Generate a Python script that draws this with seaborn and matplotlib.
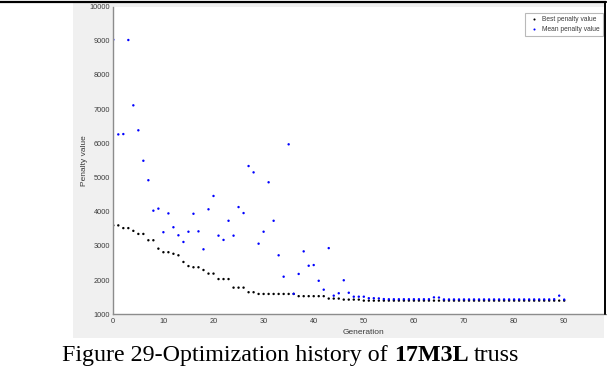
import numpy as np
import pandas as pd
import matplotlib
matplotlib.use("Agg")
import matplotlib.pyplot as plt
import seaborn as sns
from matplotlib.patches import Rectangle
from matplotlib.lines import Line2D

# ---------------- data ----------------
generation = list(range(91))
best_penalty = [3600, 3600, 3520, 3520, 3440, 3350, 3350, 3165, 3165, 2920,
                2815, 2815, 2770, 2725, 2530, 2410, 2375, 2375, 2295, 2190,
                2190, 2030, 2030, 2030, 1780, 1780, 1780, 1645, 1645, 1595,
                1595, 1595, 1595, 1595, 1595, 1595, 1595, 1530, 1530, 1530,
                1530, 1530, 1530, 1460, 1460, 1460, 1430, 1430, 1430, 1430,
                1400, 1400, 1400, 1400, 1400, 1400, 1400, 1400, 1400, 1400,
                1400, 1400, 1400, 1400, 1400, 1400, 1400, 1400, 1400, 1400,
                1400, 1400, 1400, 1400, 1400, 1400, 1400, 1400, 1400, 1400,
                1400, 1400, 1400, 1400, 1400, 1400, 1400, 1400, 1400, 1400,
                1400]
mean_penalty = [9030, 6260, 6270, 9020, 7110, 6380, 5490, 4920, 4030, 4090,
                3400, 3950, 3545, 3310, 3115, 3415, 3940, 3425, 2900, 4070,
                4460, 3300, 3175, 3735, 3300, 4135, 3960, 5335, 5150, 3065,
                3415, 4860, 3735, 2725, 2100, 5970, 1600, 2180, 2840, 2420,
                2440, 1980, 1720, 2935, 1545, 1615, 1995, 1630, 1515, 1515,
                1515, 1470, 1470, 1465, 1445, 1440, 1440, 1440, 1440, 1440,
                1440, 1440, 1440, 1440, 1495, 1490, 1435, 1435, 1435, 1435,
                1435, 1435, 1435, 1435, 1435, 1435, 1435, 1435, 1435, 1435,
                1435, 1435, 1435, 1435, 1435, 1435, 1435, 1435, 1440, 1545,
                1430]
series_names = ["Best penalty value", "Mean penalty value"]
series_colors = ["black", "blue"]
x_ticks = [0, 10, 20, 30, 40, 50, 60, 70, 80, 90]
y_ticks = [1000, 2000, 3000, 4000, 5000, 6000, 7000, 8000, 9000, 10000]
x_label = "Generation"
y_label = "Penalty value"
caption_parts = ["Figure 29-Optimization history of", "17M3L", "truss"]

df = pd.concat([
    pd.DataFrame({"Generation": generation, "Penalty": best_penalty, "Series": series_names[0]}),
    pd.DataFrame({"Generation": generation, "Penalty": mean_penalty, "Series": series_names[1]}),
], ignore_index=True)

# ---------------- figure ----------------
sns.set_theme(style="white")
plt.rcParams['font.family'] = ['Liberation Sans', 'DejaVu Sans']

W, H = 607, 383
fig = plt.figure(figsize=(W / 100, H / 100), dpi=100)
fig.patch.set_facecolor("white")


def fx(px):
    return px / W


def fy(py):
    return 1 - py / H


# gray MATLAB window background
fig.add_artist(Rectangle((fx(73), fy(338)), fx(604) - fx(73), fy(3) - fy(338),
                         transform=fig.transFigure, facecolor="#f0f0f0",
                         edgecolor="none", zorder=-5))

ax_left, ax_right, ax_top, ax_bottom = 113.3, 614.3, 6.5, 314.3
ax = fig.add_axes([fx(ax_left), fy(ax_bottom), (ax_right - ax_left) / W, (ax_bottom - ax_top) / H])
ax.set_facecolor("white")

sns.scatterplot(data=df, x="Generation", y="Penalty", hue="Series",
                palette=dict(zip(series_names, series_colors)),
                s=3.0, linewidth=0, marker="o", legend=False, ax=ax)

ax.set_xlim(0, 100)
ax.set_ylim(1000, 10000)
ax.set_xticks(x_ticks)
ax.set_yticks(y_ticks)
ax.set_xticklabels([str(v) for v in x_ticks])
ax.set_yticklabels([str(v) for v in y_ticks])

for side in ["top", "right"]:
    ax.spines[side].set_visible(False)
for side in ["left", "bottom"]:
    ax.spines[side].set_color("#8c8c8c")
    ax.spines[side].set_linewidth(1.0)

ax.tick_params(axis="both", direction="in", length=4, width=0.8, color="#8c8c8c",
               labelsize=5.3, labelcolor="#3c3c3c")
ax.tick_params(axis="x", pad=3.0)
ax.tick_params(axis="y", pad=2.2)

ax.set_xlabel(x_label, fontsize=6, color="#3c3c3c")
ax.set_ylabel(y_label, fontsize=6, color="#3c3c3c")
ax.xaxis.set_label_coords(0.5, (ax_bottom - 328.5) / (ax_bottom - ax_top))
ax.yaxis.set_label_coords((88.5 - ax_left) / (ax_right - ax_left), 0.5)

handles = [Line2D([], [], linestyle="none", marker="o", markersize=1.5,
                  markerfacecolor=c, markeredgecolor="none") for c in series_colors]
leg = ax.legend(handles, series_names, loc="upper right",
                bbox_to_anchor=(fx(602.5), fy(13)), bbox_transform=fig.transFigure,
                fontsize=4.8, frameon=True, fancybox=False, borderpad=0.45,
                handlelength=1.8, handletextpad=0.3, labelspacing=0.5,
                borderaxespad=0.0)
leg.get_frame().set_edgecolor("#a8a8a8")
leg.get_frame().set_linewidth(0.8)
leg.get_frame().set_facecolor("white")
for t in leg.get_texts():
    t.set_color("#3c3c3c")

# window border (black lines) and white strip right of it
fig.add_artist(Rectangle((fx(605.5), fy(314)), 1 - fx(605.5), fy(0) - fy(314),
                         transform=fig.transFigure, facecolor="white",
                         edgecolor="none", zorder=10))
fig.add_artist(Line2D([fx(0), fx(606)], [fy(1.5), fy(1.5)], transform=fig.transFigure,
                      color="black", lw=1.6, zorder=11))
fig.add_artist(Line2D([fx(605), fx(605)], [fy(1.5), fy(314)], transform=fig.transFigure,
                      color="black", lw=1.4, zorder=11))

# caption with bold part
fig.canvas.draw()
renderer = fig.canvas.get_renderer()
cap_size = 17.3
serif = ["Liberation Serif", "DejaVu Serif"]
probe1 = fig.text(0, 0, "a a", fontsize=cap_size, family=serif)
probe2 = fig.text(0, 0, "aa", fontsize=cap_size, family=serif)
space_w = probe1.get_window_extent(renderer).width - probe2.get_window_extent(renderer).width
probe1.remove()
probe2.remove()

x_px = 62
weights = ["normal", "bold", "normal"]
for part, wgt in zip(caption_parts, weights):
    t = fig.text(fx(x_px), fy(361), part, fontsize=cap_size, family=serif,
                 weight=wgt, ha="left", va="baseline", color="black")
    x_px += t.get_window_extent(renderer).width + space_w

fig.savefig("out.png", dpi=100, facecolor="white")
